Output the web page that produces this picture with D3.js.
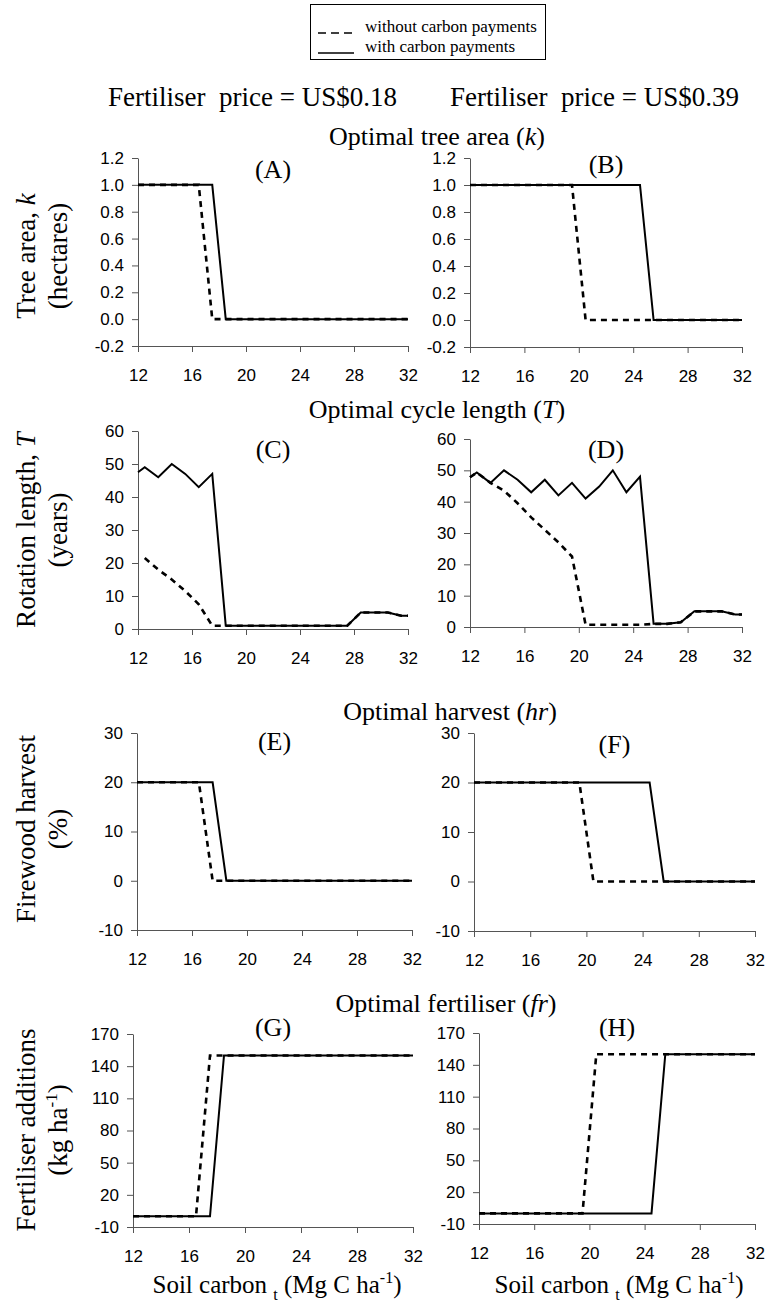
<!DOCTYPE html>
<html>
<head>
<meta charset="utf-8">
<script src="https://cdn.jsdelivr.net/npm/d3@7"></script>
<style>
  body { margin: 0; background: #fff; }
  svg { display: block; }
  .tick text { font-family: "Liberation Sans", Arial, sans-serif; font-size: 17px; fill: #000; }
  .domain, .tick line { stroke: #555; }
</style>
</head>
<body>
<svg id="chart" width="768" height="1309"></svg>
<script>
// soil carbon (Mg C/ha) at which the model was solved
const soilCarbon = [12, 12.5, 13.5, 14.5, 15.5, 16.5, 17.5, 18.5, 19.5, 20.5, 21.5, 22.5, 23.5, 24.5, 25.5, 26.5, 27.5, 28.5, 29.5, 30.5, 31.5, 32];
const xTicks = [12, 16, 20, 24, 28, 32];

// tree area k (hectares)
const treeLowWith     = [1, 1, 1, 1, 1, 1, 1, 0, 0, 0, 0, 0, 0, 0, 0, 0, 0, 0, 0, 0, 0, 0];
const treeLowWithout  = [1, 1, 1, 1, 1, 1, 0, 0, 0, 0, 0, 0, 0, 0, 0, 0, 0, 0, 0, 0, 0, 0];
const treeHighWith    = [1, 1, 1, 1, 1, 1, 1, 1, 1, 1, 1, 1, 1, 1, 0, 0, 0, 0, 0, 0, 0, 0];
const treeHighWithout = [1, 1, 1, 1, 1, 1, 1, 1, 1, 0, 0, 0, 0, 0, 0, 0, 0, 0, 0, 0, 0, 0];

// rotation length T (years)
const rotLowWith     = [47.5, 49, 46, 50, 47, 43, 47, 1, 1, 1, 1, 1, 1, 1, 1, 1, 1, 5, 5, 5, 4, 4];
const rotLowWithout  = [null, 21.5, 18, 15, 11.5, 7.5, 1, 1, 1, 1, 1, 1, 1, 1, 1, 1, 1, 5, 5, 5, 4, 4];
const rotHighWith    = [47.8, 49.3, 46, 50, 47, 43, 47, 42, 46, 41, 44.8, 50, 43, 48, 1, 1, 1.5, 5, 5, 5, 4, 4];
const rotHighWithout = [47.8, 49.3, 46, 43.5, 39.5, 35, 31, 27, 22.5, 0.7, 0.7, 0.7, 0.7, 0.7, 1, 1, 1.5, 5, 5, 5, 4, 4];

// firewood harvest hr (%)
const harvLowWith     = [20, 20, 20, 20, 20, 20, 20, 0, 0, 0, 0, 0, 0, 0, 0, 0, 0, 0, 0, 0, 0, 0];
const harvLowWithout  = [20, 20, 20, 20, 20, 20, 0, 0, 0, 0, 0, 0, 0, 0, 0, 0, 0, 0, 0, 0, 0, 0];
const harvHighWith    = [20, 20, 20, 20, 20, 20, 20, 20, 20, 20, 20, 20, 20, 20, 0, 0, 0, 0, 0, 0, 0, 0];
const harvHighWithout = [20, 20, 20, 20, 20, 20, 20, 20, 20, 0, 0, 0, 0, 0, 0, 0, 0, 0, 0, 0, 0, 0];

// fertiliser fr (kg/ha)
const fertLowWith     = [0, 0, 0, 0, 0, 0, 0, 150, 150, 150, 150, 150, 150, 150, 150, 150, 150, 150, 150, 150, 150, 150];
const fertLowWithout  = [0, 0, 0, 0, 0, 0, 150, 150, 150, 150, 150, 150, 150, 150, 150, 150, 150, 150, 150, 150, 150, 150];
const fertHighWith    = [0, 0, 0, 0, 0, 0, 0, 0, 0, 0, 0, 0, 0, 0, 150, 150, 150, 150, 150, 150, 150, 150];
const fertHighWithout = [0, 0, 0, 0, 0, 0, 0, 0, 0, 150, 150, 150, 150, 150, 150, 150, 150, 150, 150, 150, 150, 150];

const kTicks = [-0.2, 0, 0.2, 0.4, 0.6, 0.8, 1.0, 1.2];
const tTicks = [0, 10, 20, 30, 40, 50, 60];
const hTicks = [-10, 0, 10, 20, 30];
const fTicks = [-10, 20, 50, 80, 110, 140, 170];

const serif = '"Liberation Serif", "Times New Roman", serif';
const fmt1 = d => d.toFixed(1);
const fmt0 = d => String(d);

const panels = [
  {label: "(A)", x0: 138, x1: 408, top: 158, bot: 346, dom: [-0.2, 1.2], ticks: kTicks, fmt: fmt1, w: treeLowWith,  wo: treeLowWithout,  ly: 178},
  {label: "(B)", x0: 470, x1: 742, top: 158, bot: 347, dom: [-0.2, 1.2], ticks: kTicks, fmt: fmt1, w: treeHighWith, wo: treeHighWithout, ly: 173},
  {label: "(C)", x0: 138, x1: 408, top: 431, bot: 629, dom: [0, 60], ticks: tTicks, fmt: fmt0, w: rotLowWith,  wo: rotLowWithout,  ly: 458},
  {label: "(D)", x0: 470, x1: 742, top: 439, bot: 627, dom: [0, 60], ticks: tTicks, fmt: fmt0, w: rotHighWith, wo: rotHighWithout, ly: 458},
  {label: "(E)", x0: 137, x1: 412, top: 733, bot: 930, dom: [-10, 30], ticks: hTicks, fmt: fmt0, w: harvLowWith,  wo: harvLowWithout,  ly: 750},
  {label: "(F)", x0: 474, x1: 755, top: 733, bot: 931, dom: [-10, 30], ticks: hTicks, fmt: fmt0, w: harvHighWith, wo: harvHighWithout, ly: 753},
  {label: "(G)", x0: 133, x1: 413, top: 1034, bot: 1227, dom: [-10, 170], ticks: fTicks, fmt: fmt0, w: fertLowWith,  wo: fertLowWithout,  ly: 1036},
  {label: "(H)", x0: 479, x1: 755, top: 1033, bot: 1224, dom: [-10, 170], ticks: fTicks, fmt: fmt0, w: fertHighWith, wo: fertHighWithout, ly: 1036}
];

const svg = d3.select("#chart");

// legend box
const lg = svg.append("g");
lg.append("rect").attr("x", 310.5).attr("y", 4.5).attr("width", 235).attr("height", 55)
  .attr("fill", "none").attr("stroke", "#000");
lg.append("line").attr("x1", 318).attr("x2", 354).attr("y1", 33).attr("y2", 33)
  .attr("stroke", "#000").attr("stroke-width", 1.3).attr("stroke-dasharray", "8,5");
lg.append("line").attr("x1", 318).attr("x2", 354).attr("y1", 53).attr("y2", 53)
  .attr("stroke", "#000").attr("stroke-width", 1.3);
lg.append("text").attr("x", 365).attr("y", 32).text("without carbon payments")
  .style("font-family", serif).style("font-size", "17px");
lg.append("text").attr("x", 365).attr("y", 52).text("with carbon payments")
  .style("font-family", serif).style("font-size", "17px");

// column headers
[["Fertiliser  price = US$0.18", 108], ["Fertiliser  price = US$0.39", 450]].forEach(h => {
  svg.append("text").attr("x", h[1]).attr("y", 106).text(h[0])
    .style("font-family", serif).style("font-size", "27px").style("white-space", "pre");
});

// section titles, with italic symbol
function title(txt, sym, cx, y) {
  const t = svg.append("text").attr("x", cx).attr("y", y).attr("text-anchor", "middle")
    .style("font-family", serif).style("font-size", "26px");
  t.append("tspan").text(txt + " (");
  t.append("tspan").style("font-style", "italic").text(sym);
  t.append("tspan").text(")");
}
title("Optimal tree area", "k", 437, 145);
title("Optimal cycle length", "T", 437, 418);
title("Optimal harvest", "hr", 450, 720);
title("Optimal fertiliser", "fr", 446, 1012);

// y axis titles (left column only)
function yTitle(cy, line1, line2) {
  const g = svg.append("g").style("font-family", serif).style("font-size", "27px");
  const t1 = g.append("text").attr("text-anchor", "middle").attr("transform", `translate(35,${cy}) rotate(-90)`);
  line1(t1);
  const t2 = g.append("text").attr("text-anchor", "middle").attr("transform", `translate(67,${cy}) rotate(-90)`);
  line2(t2);
}
yTitle(256, t => { t.append("tspan").text("Tree area, "); t.append("tspan").style("font-style", "italic").text("k"); },
            t => t.text("(hectares)"));
yTitle(530, t => { t.append("tspan").text("Rotation length, "); t.append("tspan").style("font-style", "italic").text("T"); },
            t => t.text("(years)"));
yTitle(829, t => t.text("Firewood harvest"), t => t.text("(%)"));
yTitle(1130, t => t.text("Fertiliser additions"),
             t => { t.append("tspan").text("(kg ha");
                    t.append("tspan").attr("dy", -10).style("font-size", "17px").text("-1");
                    t.append("tspan").attr("dy", 10).text(")"); });

// x axis titles (bottom row)
[277, 619].forEach(cx => {
  const t = svg.append("text").attr("x", cx).attr("y", 1293).attr("text-anchor", "middle")
    .style("font-family", serif).style("font-size", "25px");
  t.append("tspan").text("Soil carbon ");
  t.append("tspan").attr("dy", 7).style("font-size", "16px").text("t");
  t.append("tspan").attr("dy", -7).text(" (Mg C ha");
  t.append("tspan").attr("dy", -10).style("font-size", "16px").text("-1");
  t.append("tspan").attr("dy", 10).text(")");
});

// panels
panels.forEach(p => {
  const x = d3.scaleLinear().domain([12, 32]).range([p.x0, p.x1]);
  const y = d3.scaleLinear().domain(p.dom).range([p.bot, p.top]);
  const g = svg.append("g");

  g.append("g").attr("transform", `translate(0,${p.bot})`)
    .call(d3.axisBottom(x).tickValues(xTicks).tickSize(6).tickPadding(17).tickSizeOuter(0).tickFormat(fmt0));
  g.append("g").attr("transform", `translate(${p.x0},0)`)
    .call(d3.axisLeft(y).tickValues(p.ticks).tickSize(6).tickPadding(8).tickSizeOuter(0).tickFormat(p.fmt));

  const line = d3.line().defined(d => d[1] != null).x(d => x(d[0])).y(d => y(d[1]));

  g.append("path").datum(soilCarbon.map((c, i) => [c, p.w[i]]))
    .attr("d", line).attr("fill", "none").attr("stroke", "#000").attr("stroke-width", 2);
  g.append("path").datum(soilCarbon.map((c, i) => [c, p.wo[i]]))
    .attr("d", line).attr("fill", "none").attr("stroke", "#000").attr("stroke-width", 2.6)
    .attr("stroke-dasharray", "6,5");

  g.append("text").attr("x", (p.x0 + p.x1) / 2).attr("y", p.ly).attr("text-anchor", "middle")
    .style("font-family", serif).style("font-size", "26px").text(p.label);
});
</script>
</body>
</html>
